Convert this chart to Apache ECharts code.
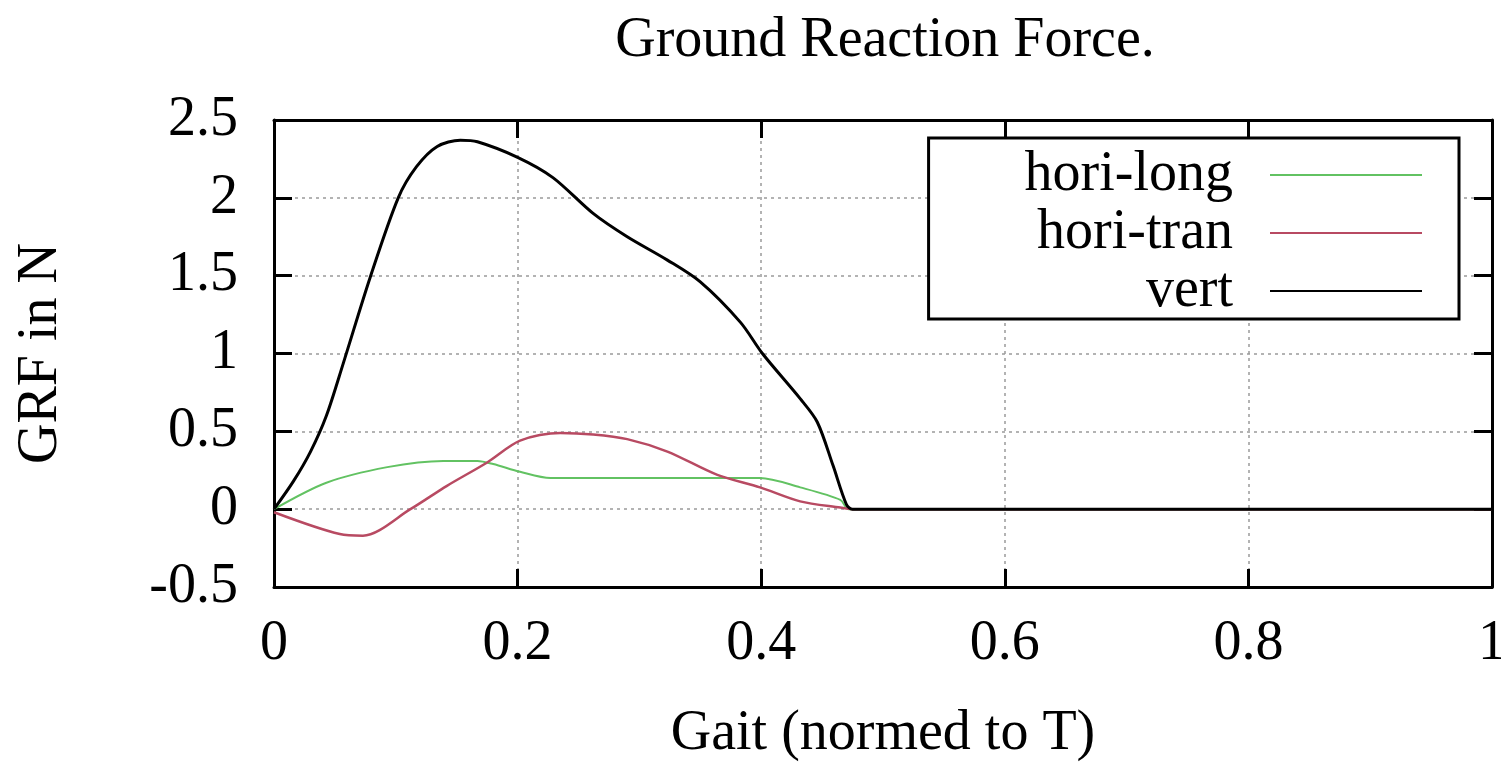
<!DOCTYPE html>
<html>
<head>
<meta charset="utf-8">
<script src="https://cdn.jsdelivr.net/npm/echarts@6/dist/echarts.min.js"></script>
<style>
  html, body { margin: 0; padding: 0; background: #fff; }
  #chart { width: 1501px; height: 762px; }
</style>
</head>
<body>
<div id="chart"></div>
<script>
// Gait phase (normed to T) and ground reaction force samples per component
const xVert = [0, 0.016, 0.03, 0.043, 0.057, 0.079, 0.102, 0.117, 0.134, 0.153, 0.167, 0.2, 0.229, 0.262, 0.29, 0.323, 0.35, 0.383, 0.401, 0.432, 0.446, 0.459, 0.47, 0.475, 1];
const yVert = [0, 0.18, 0.37, 0.6, 0.94, 1.49, 2.0, 2.2, 2.33, 2.37, 2.36, 2.26, 2.13, 1.90, 1.75, 1.60, 1.46, 1.20, 1.0, 0.71, 0.56, 0.28, 0.03, 0, 0];

const xLong = [0, 0.043, 0.093, 0.139, 0.167, 0.18, 0.202, 0.227, 0.317, 0.399, 0.432, 0.465, 0.472, 1];
const yLong = [0, 0.17, 0.27, 0.31, 0.31, 0.29, 0.24, 0.20, 0.20, 0.20, 0.14, 0.06, 0, 0];

const xTran = [0, 0.054, 0.073, 0.112, 0.142, 0.175, 0.202, 0.235, 0.262, 0.29, 0.323, 0.364, 0.399, 0.432, 0.465, 0.475, 1];
const yTran = [-0.02, -0.16, -0.17, 0, 0.15, 0.30, 0.44, 0.49, 0.48, 0.45, 0.37, 0.22, 0.14, 0.05, 0.01, 0, 0];

const seriesNames = ['hori-long', 'hori-tran', 'vert'];

const pairs = (xs, ys) => xs.map((x, i) => [x, ys[i]]);

const FONT = 'Liberation Serif';
const gridLine = { show: true, lineStyle: { color: '#9a9a9a', width: 1.5, type: [3, 4] } };
const axisLine = { show: true, onZero: false, lineStyle: { color: '#000', width: 3 } };
const tick = { show: true, inside: true, length: 18, lineStyle: { color: '#000', width: 3 } };

const chart = echarts.init(document.getElementById('chart'), null, { renderer: 'canvas' });
chart.setOption({
  animation: false,
  backgroundColor: '#fff',
  title: {
    text: 'Ground Reaction Force.',
    left: 880,
    top: 8,
    textAlign: 'center',
    textStyle: { fontFamily: FONT, fontSize: 56, fontWeight: 'normal', color: '#000' }
  },
  grid: { left: 274, right: 9, top: 120, bottom: 175, containLabel: false, outerBoundsMode: 'none' },
  legend: {
    orient: 'vertical',
    right: 42,
    top: 138,
    align: 'right',
    icon: 'rect',
    itemWidth: 152,
    itemHeight: 2,
    itemGap: 2,
    padding: [9, 37, 0, 96],
    backgroundColor: '#fff',
    borderColor: '#000',
    borderWidth: 3,
    borderRadius: 0,
    data: seriesNames,
    textStyle: { fontFamily: FONT, fontSize: 56, lineHeight: 50, color: '#000', padding: [0, 32, 0, 0] }
  },
  xAxis: [
    {
      type: 'value', position: 'bottom', min: 0, max: 1, interval: 0.2,
      name: 'Gait (normed to T)', nameLocation: 'middle', nameGap: 119,
      nameTextStyle: { fontFamily: FONT, fontSize: 56, color: '#000' },
      axisLine: axisLine, axisTick: tick, splitLine: gridLine,
      axisLabel: { fontFamily: FONT, fontSize: 56, color: '#000', margin: 29,
        formatter: v => String(+v.toFixed(1)) }
    },
    {
      type: 'value', position: 'top', min: 0, max: 1, interval: 0.2,
      axisLine: axisLine, axisTick: tick, splitLine: { show: false }, axisLabel: { show: false }
    }
  ],
  yAxis: [
    {
      type: 'value', position: 'left', min: -0.5, max: 2.5, interval: 0.5,
      name: 'GRF in N', nameLocation: 'middle', nameGap: 205,
      nameTextStyle: { fontFamily: FONT, fontSize: 56, color: '#000' },
      axisLine: axisLine, axisTick: tick, splitLine: gridLine,
      axisLabel: { fontFamily: FONT, fontSize: 56, color: '#000', margin: 36,
        formatter: v => String(+v.toFixed(1)) }
    },
    {
      type: 'value', position: 'right', min: -0.5, max: 2.5, interval: 0.5,
      axisLine: axisLine, axisTick: tick, splitLine: { show: false }, axisLabel: { show: false }
    }
  ],
  series: [
    {
      name: seriesNames[0], type: 'line', data: pairs(xLong, yLong),
      smooth: 0.3, showSymbol: false, color: '#62c262',
      lineStyle: { width: 2, color: '#62c262' }, z: 3
    },
    {
      name: seriesNames[1], type: 'line', data: pairs(xTran, yTran),
      smooth: 0.3, showSymbol: false, color: '#b84a62',
      lineStyle: { width: 2.5, color: '#b84a62' }, z: 4
    },
    {
      name: seriesNames[2], type: 'line', data: pairs(xVert, yVert),
      smooth: 0.3, showSymbol: false, color: '#000',
      lineStyle: { width: 3, color: '#000' }, z: 5
    }
  ]
});
</script>
</body>
</html>
